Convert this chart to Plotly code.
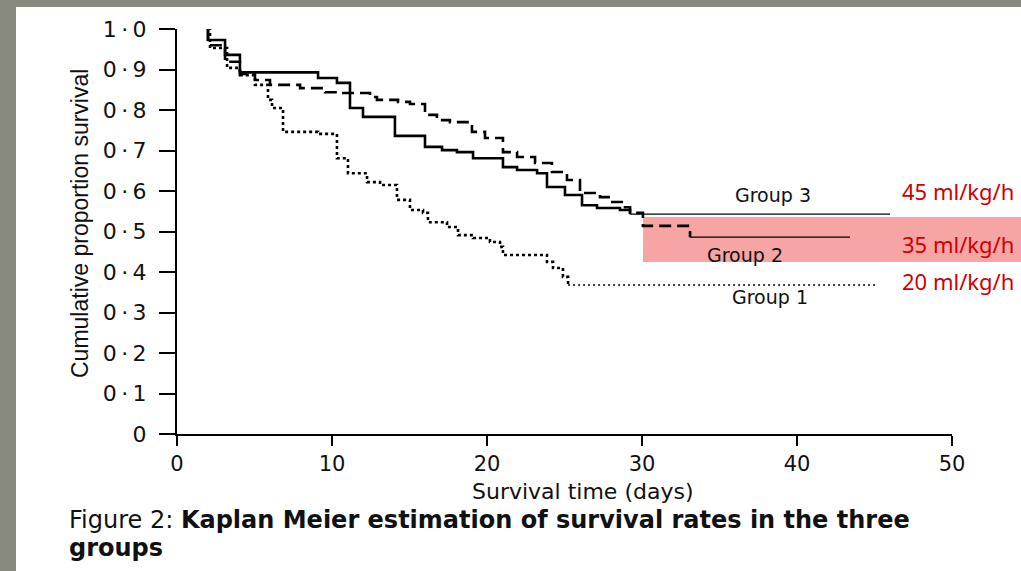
import plotly.graph_objects as go

# ---- data ----
g3_t = [2.0, 2.0, 3.10, 4.06, 9.10, 10.32, 11.16, 12.0, 14.06, 16.0, 17.10, 18.06, 19.10,
        21.03, 21.94, 23.23, 23.87, 25.03, 26.13, 27.10, 28.58, 29.23, 46.0]
g3_s = [1.0, 0.973, 0.936, 0.893, 0.879, 0.867, 0.805, 0.783, 0.736, 0.709, 0.701, 0.696, 0.681,
        0.659, 0.652, 0.644, 0.610, 0.590, 0.565, 0.558, 0.553, 0.543, 0.543]

g2_t = [2.0, 2.0, 3.10, 4.06, 5.03, 6.0, 7.94, 9.55, 10.52, 12.45, 12.90, 14.26, 15.03, 16.0,
        16.77, 17.61, 19.03, 19.87, 21.03, 21.94, 23.10, 24.19, 25.16, 26.0, 27.29, 27.94,
        28.90, 29.23, 30.06, 33.10, 43.42]
g2_s = [1.0, 0.960, 0.919, 0.889, 0.874, 0.862, 0.854, 0.844, 0.842, 0.832, 0.825, 0.820, 0.815,
        0.788, 0.775, 0.770, 0.746, 0.731, 0.696, 0.684, 0.669, 0.647, 0.627, 0.595, 0.585,
        0.573, 0.560, 0.546, 0.514, 0.486, 0.486]

g1_t = [2.0, 2.13, 3.23, 4.06, 5.03, 5.87, 6.13, 6.84, 9.10, 10.32, 11.03, 12.26, 13.10, 14.19,
        15.03, 15.87, 16.19, 17.42, 18.13, 19.10, 20.19, 20.84, 21.03, 23.87, 24.26, 24.90,
        25.23, 45.16]
g1_s = [1.0, 0.953, 0.904, 0.886, 0.862, 0.825, 0.805, 0.746, 0.741, 0.681, 0.644, 0.622, 0.615,
        0.578, 0.553, 0.546, 0.523, 0.511, 0.491, 0.484, 0.474, 0.462, 0.442, 0.425, 0.410,
        0.388, 0.368, 0.368]

x_ticks = [0, 10, 20, 30, 40, 50]
y_ticks = [0, 0.1, 0.2, 0.3, 0.4, 0.5, 0.6, 0.7, 0.8, 0.9, 1.0]
y_ticklabels = ["0"] + ["0\u2009·\u2009" + str(i) for i in range(1, 10)] + ["1\u2009·\u20090"]

group_names = ["Group 3", "Group 2", "Group 1"]
rate_labels = ["45 ml/kg/h", "35 ml/kg/h", "20 ml/kg/h"]

W, H = 1021, 571
ML, MR, MT, MB = 177, 69, 29, 137
PW, PH = W - ML - MR, H - MT - MB


def px2paper_x(px):
    return (px - ML) / PW


def px2paper_y(py):
    return (H - MB - py) / PH


fig = go.Figure()

series = [
    (g3_t, g3_s, "solid", "solid"),
    (g2_t, g2_s, "12px,6px", "solid"),
    (g1_t, g1_s, "3px,3px", "2px,3px"),
]
for t, s, dash, tail_dash in series:
    fig.add_trace(go.Scatter(x=t[:-1], y=s[:-1], mode="lines", line_shape="hv",
                             line=dict(color="black", width=2.6, dash=dash),
                             cliponaxis=False, showlegend=False, hoverinfo="skip"))
    fig.add_trace(go.Scatter(x=[t[-2], t[-1]], y=[s[-1], s[-1]], mode="lines",
                             line=dict(color="black", width=1.4, dash=tail_dash),
                             cliponaxis=False, showlegend=False, hoverinfo="skip"))

shapes = [
    # white page panel
    dict(type="rect", xref="paper", yref="paper", layer="below",
         x0=px2paper_x(16), x1=px2paper_x(1030), y0=px2paper_y(7), y1=px2paper_y(580),
         fillcolor="white", line=dict(width=0)),
    # red highlight band
    dict(type="rect", xref="paper", yref="paper", layer="below",
         x0=px2paper_x(643), x1=px2paper_x(1030), y0=px2paper_y(262), y1=px2paper_y(217),
         fillcolor="rgba(238,90,90,0.55)", line=dict(width=0)),
]

annotations = []
font_lbl = dict(family="DejaVu Sans", size=19, color="#111")
for name, (px, py) in zip(group_names, [(773, 195), (745, 255), (770, 297)]):
    annotations.append(dict(text=name, xref="paper", yref="paper",
                            x=px2paper_x(px), y=px2paper_y(py), showarrow=False,
                            font=font_lbl, xanchor="center", yanchor="middle"))
for lab, py in zip(rate_labels, [191, 244, 281]):
    annotations.append(dict(text=lab, xref="paper", yref="paper",
                            x=px2paper_x(1016), y=px2paper_y(py), showarrow=False,
                            font=dict(family="Noto Sans", size=22, color="#d00000"),
                            xanchor="right", yanchor="middle"))
# y title
annotations.append(dict(text="Cumulative proportion survival", xref="paper", yref="paper",
                        x=px2paper_x(80), y=px2paper_y(224), textangle=-90, showarrow=False,
                        font=dict(family="Liberation Sans Narrow, Liberation Sans", size=23,
                                  color="#111"),
                        xanchor="center", yanchor="middle"))
# x title
annotations.append(dict(text="Survival time (days)", xref="paper", yref="paper",
                        x=px2paper_x(582), y=px2paper_y(491), showarrow=False,
                        font=dict(family="DejaVu Sans", size=22, color="#111"),
                        xanchor="center", yanchor="middle"))
# caption (two lines)
annotations.append(dict(
    text="Figure 2: <b>Kaplan Meier estimation of survival rates in the three</b>",
    xref="paper", yref="paper", x=px2paper_x(67), y=px2paper_y(520), showarrow=False,
    align="left", xanchor="left", yanchor="middle",
    font=dict(family="DejaVu Sans", size=24, color="#111")))
annotations.append(dict(
    text="<b>groups</b>",
    xref="paper", yref="paper", x=px2paper_x(67), y=px2paper_y(548), showarrow=False,
    align="left", xanchor="left", yanchor="middle",
    font=dict(family="DejaVu Sans", size=24, color="#111")))

fig.update_layout(
    width=W, height=H,
    margin=dict(l=ML, r=MR, t=MT, b=MB, pad=0),
    paper_bgcolor="#878a7d", plot_bgcolor="rgba(0,0,0,0)",
    shapes=shapes, annotations=annotations,
    xaxis=dict(range=[0, 50], tickvals=x_ticks, ticktext=[str(v) for v in x_ticks],
               showgrid=False, zeroline=False, showline=True, linecolor="black", linewidth=2,
               ticks="outside", ticklen=10, tickwidth=1.6, tickcolor="black",
               tickfont=dict(family="DejaVu Sans", size=21, color="#111")),
    yaxis=dict(range=[0, 1.0], tickvals=y_ticks, ticktext=y_ticklabels,
               showgrid=False, zeroline=False, showline=True, linecolor="black", linewidth=2,
               ticks="outside", ticklen=16, tickwidth=1.6, tickcolor="black",
               ticklabelstandoff=8,
               tickfont=dict(family="DejaVu Sans", size=22, color="#111")),
)

fig.write_html("out.html", config={"displayModeBar": False},
               post_script="document.body.style.margin='0';"
                           "document.body.style.background='#878a7d';")
